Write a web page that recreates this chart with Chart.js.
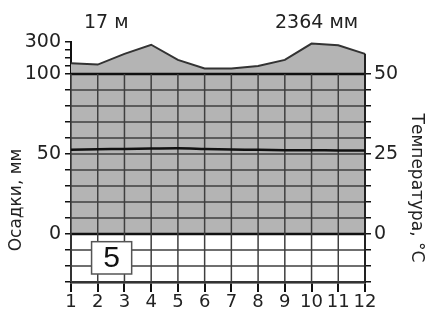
<!DOCTYPE html>
<html lang="ru">
<head>
<meta charset="UTF-8">
<title>Климатограмма</title>
<script src="https://cdn.jsdelivr.net/npm/chart.js"></script>
<style>
  body { margin: 0; background: #fff; }
  #box { width: 431px; height: 313px; }
</style>
</head>
<body>
<div id="box"><canvas id="grafico" width="431" height="313"></canvas></div>
<script>
// dados
const meses = ['1','2','3','4','5','6','7','8','9','10','11','12'];
const osadki = [167, 159, 226, 283, 188, 135, 135, 150, 188, 290, 279, 226];   // mm
const temperatura = [26.3, 26.5, 26.6, 26.7, 26.8, 26.6, 26.4, 26.3, 26.2, 26.2, 26.1, 26.1]; // °C
const vysota = '17 м';
const summa = '2364 мм';
const suhieMesyacy = '5';

const ticksLeft = [-15, -10, -5, 0, 5, 10, 15, 20, 25, 30, 35, 40, 45, 50, 52.5, 55, 57.5, 60];
const labelsLeft = { 0: '0', 25: '50', 50: '100', 60: '300' };
const ticksRight = [-15, -10, -5, 0, 5, 10, 15, 20, 25, 30, 35, 40, 45, 50];
const labelsRight = { 0: '0', 25: '25', 50: '50' };

// escala de Walter-Lieth: 10 mm = 5 °C ate 100 mm, depois comprimida
function mmParaEscala(p) {
  return p <= 100 ? p / 2 : 50 + (p - 100) / 20;
}

const FONTE = '"DejaVu Sans", sans-serif';
const COR_GRADE = '#3f3f3f';

const pluginClima = {
  id: 'clima',
  beforeDatasetDraw(chart, args) {
    if (args.index !== 1) return;
    const { ctx, chartArea: a, scales: { x, y } } = chart;
    ctx.save();
    // linhas horizontais
    ticksRight.forEach(v => {
      const py = y.getPixelForValue(v);
      const forte = (v === 0 || v === 50);
      ctx.beginPath();
      ctx.strokeStyle = forte ? '#111' : COR_GRADE;
      ctx.lineWidth = forte ? 2.5 : 1.5;
      ctx.moveTo(a.left, py);
      ctx.lineTo(a.right, py);
      ctx.stroke();
    });
    // linhas verticais
    const topo = y.getPixelForValue(50);
    ctx.strokeStyle = COR_GRADE;
    ctx.lineWidth = 1.5;
    meses.forEach((m, i) => {
      const px = x.getPixelForValue(i);
      ctx.beginPath();
      ctx.moveTo(px, topo);
      ctx.lineTo(px, a.bottom);
      ctx.stroke();
    });
    // borda direita
    ctx.beginPath();
    ctx.strokeStyle = '#222';
    ctx.lineWidth = 2;
    ctx.moveTo(a.right, y.getPixelForValue(mmParaEscala(osadki[osadki.length - 1])));
    ctx.lineTo(a.right, a.bottom);
    ctx.stroke();
    ctx.restore();
  },
  afterDraw(chart) {
    const { ctx, scales: { x, y } } = chart;
    ctx.save();
    // caixa com numero
    const x1 = x.getPixelForValue(0.77), x2 = x.getPixelForValue(2.27);
    const y1 = y.getPixelForValue(-2.4), y2 = y.getPixelForValue(-12.5);
    ctx.fillStyle = '#fff';
    ctx.fillRect(x1, y1, x2 - x1, y2 - y1);
    ctx.strokeStyle = '#555';
    ctx.lineWidth = 1.5;
    ctx.strokeRect(x1, y1, x2 - x1, y2 - y1);
    ctx.fillStyle = '#111';
    ctx.font = '30px "Liberation Sans", Arial, sans-serif';
    ctx.textAlign = 'center';
    ctx.textBaseline = 'middle';
    ctx.fillText(suhieMesyacy, (x1 + x2) / 2, (y1 + y2) / 2 + 1);

    // textos do topo
    ctx.fillStyle = '#222';
    ctx.font = '19px ' + FONTE;
    ctx.textBaseline = 'alphabetic';
    ctx.textAlign = 'left';
    ctx.fillText(vysota, 84, 28);
    ctx.fillText(summa, 275, 28);

    // titulos dos eixos
    ctx.font = '17px ' + FONTE;
    ctx.textAlign = 'center';
    ctx.textBaseline = 'middle';
    ctx.save();
    ctx.translate(17, 200);
    ctx.rotate(-Math.PI / 2);
    ctx.fillText('Осадки, мм', 0, 0);
    ctx.restore();
    ctx.save();
    ctx.translate(416, 188);
    ctx.rotate(Math.PI / 2);
    ctx.fillText('Температура, °С', 0, 0);
    ctx.restore();
    ctx.restore();
  }
};

const dados = {
  labels: meses,
  datasets: [{
    label: 'Осадки',
    data: osadki.map(mmParaEscala),
    yAxisID: 'y',
    borderColor: '#333',
    borderWidth: 2,
    backgroundColor: '#b4b4b4',
    fill: 'origin',
    tension: 0,
    pointRadius: 0,
    order: 1
  }, {
    label: 'Температура',
    data: temperatura,
    yAxisID: 'y2',
    borderColor: '#111',
    borderWidth: 2.5,
    fill: false,
    tension: 0.3,
    pointRadius: 0,
    order: 0
  }]
};

const config = {
  type: 'line',
  data: dados,
  options: {
    responsive: false,
    animation: false,
    devicePixelRatio: 1,
    layout: { padding: { top: 42, left: 0, right: 0, bottom: 0 } },
    plugins: {
      legend: { display: false },
      tooltip: { enabled: false }
    },
    scales: {
      x: {
        type: 'category',
        offset: false,
        afterFit: s => { s.height = 31; },
        grid: { drawOnChartArea: false, drawTicks: true, tickLength: 10, color: '#111', lineWidth: 2 },
        border: { display: true, color: '#111', width: 2.5 },
        ticks: { color: '#222', font: { family: FONTE, size: 18 }, padding: 0, maxRotation: 0, autoSkip: false }
      },
      y: {
        position: 'left',
        min: -15,
        max: 60,
        afterFit: s => { s.width = 71; },
        afterBuildTicks: s => { s.ticks = ticksLeft.map(v => ({ value: v })); },
        grid: { drawOnChartArea: false, drawTicks: true, tickLength: 6, color: '#111', lineWidth: 1.5 },
        border: { display: true, color: '#111', width: 2 },
        ticks: {
          color: '#222', padding: 4, autoSkip: false,
          font: { family: FONTE, size: 19 },
          callback: v => labelsLeft[v] !== undefined ? labelsLeft[v] : ''
        }
      },
      y2: {
        position: 'right',
        min: -15,
        max: 60,
        afterFit: s => { s.width = 66; },
        afterBuildTicks: s => { s.ticks = ticksRight.map(v => ({ value: v })); },
        grid: { drawOnChartArea: false, drawTicks: true, tickLength: 6, color: '#111', lineWidth: 1.5 },
        border: { display: false },
        ticks: {
          color: '#222', padding: 3, autoSkip: false,
          font: { family: FONTE, size: 19 },
          callback: v => labelsRight[v] !== undefined ? labelsRight[v] : ''
        }
      }
    }
  },
  plugins: [pluginClima]
};

let grafico = new Chart(document.getElementById('grafico'), config);
</script>
</body>
</html>
